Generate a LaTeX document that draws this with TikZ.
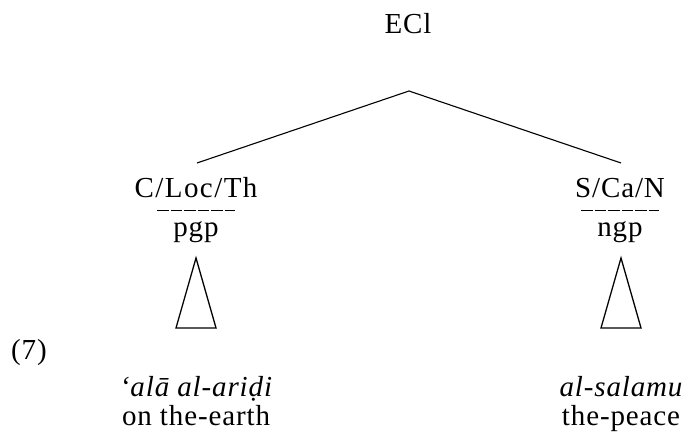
\documentclass[tikz,border=0pt]{standalone}
\usepackage{fontspec}
\setmainfont[LetterSpace=3]{Liberation Serif}
\usetikzlibrary{positioning}

\begin{document}
\begin{tikzpicture}[x=1pt, y=1pt,
        lbl/.style={font=\fontsize{29}{34}\selectfont, inner sep=0pt, anchor=base},
        cat/.style={lbl, font=\fontsize{29}{34}\selectfont\addfontfeature{LetterSpace=5}},
        gls/.style={lbl, font=\fontsize{29}{34}\selectfont\itshape},
        branch/.style={line width=1.1pt},
        bar/.style={line width=1pt, dash pattern=on 11.5pt off 2pt},
        tri/.style={line width=1.3pt, line join=miter}
    ]
        \useasboundingbox (0,0) rectangle (689,438);

        % root and its branches
        \node[lbl] (ecl) at (408,404) {ECl};
        \coordinate (apex) at (409,347);
        \coordinate (lend) at (197,275);
        \coordinate (rend) at (621,275);

        % left daughter
        \node[cat] (loc) at (196,240) {C/Loc/Th};
        \node[lbl] (pgp) at (196,201) {pgp};
        \coordinate (lbar) at (157,227);

        % right daughter
        \node[lbl] (sca) at (620,240) {S/Ca/N};
        \node[lbl] (ngp) at (620,201) {ngp};
        \coordinate (rbar) at (581,227);

        \coordinate (ltop) at (196,180);
        \coordinate (rtop) at (621,180);

        % example number and glosses
        \node[lbl, anchor=base west] (num) at (11,78) {(7)};
        \node[gls] (lar) at (196,41) {‘alā al-ariḍi};
        \node[lbl] (len) at (196,12) {on the-earth};
        \node[gls] (rar) at (621,41) {al-salamu};
        \node[lbl] (ren) at (621,12) {the-peace};

        \draw[branch] (lend) -- (apex) -- (rend);
        \draw[bar] (lbar) -- ++(78,0);
        \draw[bar] (rbar) -- ++(78,0);
        \draw[tri] (ltop) -- ++(-20,-70) -- ++(40,0) -- cycle;
        \draw[tri] (rtop) -- ++(-20,-70) -- ++(40,0) -- cycle;
    \end{tikzpicture}
\end{document}
